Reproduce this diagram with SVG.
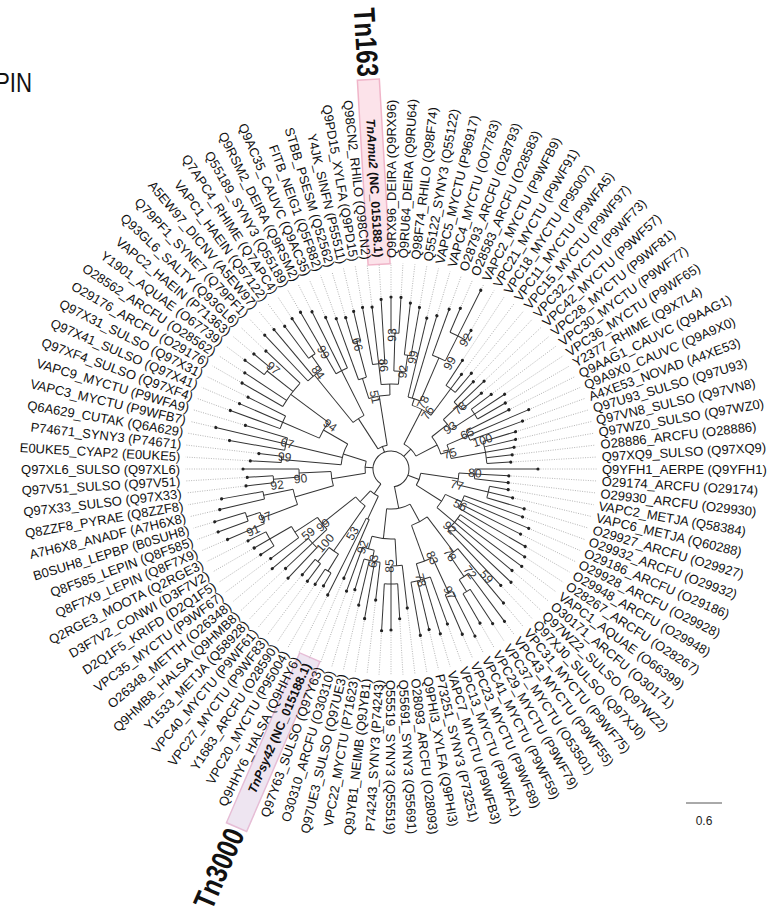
<svg xmlns="http://www.w3.org/2000/svg" width="767" height="907" viewBox="0 0 767 907">
<style>
.lb{font-family:"Liberation Sans",Arial,sans-serif;font-size:13px;fill:#111}
.le{text-anchor:end}
.bs{font-family:"Liberation Sans",Arial,sans-serif;font-size:12px;fill:#333;text-anchor:middle}
.hl{font-family:"Liberation Sans",Arial,sans-serif;font-size:12.5px;font-weight:bold;fill:#111}
.big{font-family:"Liberation Sans",Arial,sans-serif;font-size:30px;font-weight:bold;fill:#111}
#connectors path,#connectors circle{fill:none;stroke:#333;stroke-width:1}
#connectors path.dt{stroke:#a8a8a8;stroke-width:.8;stroke-dasharray:1 1.4}
.tip{fill:#222}
</style>
<rect width="767" height="907" fill="#fff"/>
<text x="-5" y="92" font-family="Liberation Sans,Arial,sans-serif" font-size="28" fill="#111" textLength="37" lengthAdjust="spacingAndGlyphs">PIN</text>

<g id="highlights" transform="translate(391 469)">
<rect transform="rotate(266.67)" x="205" y="-11" width="185" height="22" fill="#fce3ea" stroke="#f0b5c9" stroke-width="1.5"/>
<rect transform="rotate(113.33)" x="205" y="-11" width="185" height="22" fill="#eee5f1" stroke="#e6bdd6" stroke-width="1.5"/>
</g>

<g id="connectors" transform="translate(391 469)">
<circle r="18" stroke-dasharray="98.86 400" transform="rotate(124.17)"/>
<circle r="30" stroke-dasharray="9.60 400" transform="rotate(115)"/>
<circle r="55" stroke-dasharray="3.20 400" transform="rotate(113.33)"/>
<circle r="45" stroke-dasharray="13.09 400" transform="rotate(125)"/>
<circle r="100" stroke-dasharray="11.64 900" transform="rotate(121.67)"/>
<circle r="120" stroke-dasharray="6.97 900" transform="rotate(120)"/>
<circle r="118" stroke-dasharray="6.86 900" transform="rotate(126.67)"/>
<circle r="88" stroke-dasharray="15.36 900" transform="rotate(136.67)"/>
<circle r="108" stroke-dasharray="12.57 900" transform="rotate(133.33)"/>
<circle r="115" stroke-dasharray="13.39 900" transform="rotate(143.33)"/>
<circle r="140" stroke-dasharray="16.30 900" transform="rotate(146.67)"/>
<circle r="26" stroke-dasharray="12.19 400" transform="rotate(170.63)"/>
<circle r="60" stroke-dasharray="14.40 900" transform="rotate(163.75)"/>
<circle r="100" stroke-dasharray="16.00 900" transform="rotate(159.17)"/>
<circle r="138" stroke-dasharray="12.04 900" transform="rotate(156.67)"/>
<circle r="152" stroke-dasharray="8.83 990" transform="rotate(160)"/>
<circle r="130" stroke-dasharray="7.56 900" transform="rotate(166.67)"/>
<circle r="92" stroke-dasharray="8.03 900" transform="rotate(175)"/>
<circle r="118" stroke-dasharray="6.86 900" transform="rotate(173.33)"/>
<circle r="50" stroke-dasharray="21.82 400" transform="rotate(185)"/>
<circle r="110" stroke-dasharray="6.39 900" transform="rotate(183.33)"/>
<circle r="108" stroke-dasharray="12.57 900" transform="rotate(190)"/>
<circle r="78" stroke-dasharray="18.15 900" transform="rotate(203.33)"/>
<circle r="118" stroke-dasharray="13.74 900" transform="rotate(200)"/>
<circle r="125" stroke-dasharray="29.08 900" transform="rotate(210)"/>
<circle r="158" stroke-dasharray="9.18 999" transform="rotate(216.67)"/>
<circle r="24" stroke-dasharray="9.95 400" transform="rotate(237.08)"/>
<circle r="60" stroke-dasharray="13.09 900" transform="rotate(230.83)"/>
<circle r="121" stroke-dasharray="17.59 900" transform="rotate(226.67)"/>
<circle r="138" stroke-dasharray="8.02 900" transform="rotate(233.33)"/>
<circle r="110" stroke-dasharray="12.81 900" transform="rotate(240)"/>
<circle r="74" stroke-dasharray="21.53 900" transform="rotate(252.5)"/>
<circle r="95" stroke-dasharray="8.29 900" transform="rotate(250)"/>
<circle r="132" stroke-dasharray="7.67 900" transform="rotate(253.33)"/>
<circle r="85" stroke-dasharray="17.31 900" transform="rotate(263.33)"/>
<circle r="106" stroke-dasharray="12.34 900" transform="rotate(260)"/>
<circle r="98" stroke-dasharray="11.41 900" transform="rotate(271.67)"/>
<circle r="136" stroke-dasharray="7.90 900" transform="rotate(270)"/>
<circle r="115" stroke-dasharray="6.68 900" transform="rotate(276.67)"/>
<circle r="28" stroke-dasharray="17.10 400" transform="rotate(-62.5)"/>
<circle r="67" stroke-dasharray="21.43 900" transform="rotate(-71.67)"/>
<circle r="74" stroke-dasharray="12.92 900" transform="rotate(-76.67)"/>
<circle r="121" stroke-dasharray="14.09 900" transform="rotate(-70)"/>
<circle r="149" stroke-dasharray="17.35 999" transform="rotate(-66.67)"/>
<circle r="100" stroke-dasharray="11.64 900" transform="rotate(-56.67)"/>
<circle r="52" stroke-dasharray="19.67 400" transform="rotate(-38.33)"/>
<circle r="72" stroke-dasharray="12.57 900" transform="rotate(-43.33)"/>
<circle r="92" stroke-dasharray="10.71 900" transform="rotate(-46.67)"/>
<circle r="100" stroke-dasharray="11.64 900" transform="rotate(-36.67)"/>
<circle r="61" stroke-dasharray="14.19 900" transform="rotate(-23.33)"/>
<circle r="84" stroke-dasharray="9.78 900" transform="rotate(-26.67)"/>
<circle r="96" stroke-dasharray="22.33 900" transform="rotate(-16.67)"/>
<circle r="30" stroke-dasharray="12.66 400" transform="rotate(8.33)"/>
<circle r="68" stroke-dasharray="11.87 900" transform="rotate(3.33)"/>
<circle r="84" stroke-dasharray="9.78 900" transform="rotate(0)"/>
<circle r="100" stroke-dasharray="11.64 900" transform="rotate(10)"/>
<circle r="60" stroke-dasharray="15.71 900" transform="rotate(25)"/>
<circle r="78" stroke-dasharray="13.61 900" transform="rotate(20)"/>
<circle r="83" stroke-dasharray="19.31 900" transform="rotate(33.33)"/>
<circle r="40" stroke-dasharray="24.29 400" transform="rotate(61.46)"/>
<circle r="60" stroke-dasharray="17.89 900" transform="rotate(52.92)"/>
<circle r="104" stroke-dasharray="10.58 900" transform="rotate(50)"/>
<circle r="130" stroke-dasharray="11.34 900" transform="rotate(53.33)"/>
<circle r="144" stroke-dasharray="8.37 999" transform="rotate(56.67)"/>
<circle r="98" stroke-dasharray="17.10 900" transform="rotate(65)"/>
<circle r="137" stroke-dasharray="7.96 900" transform="rotate(63.33)"/>
<circle r="115" stroke-dasharray="20.07 900" transform="rotate(70)"/>
<circle r="70" stroke-dasharray="23.42 900" transform="rotate(86.67)"/>
<circle r="97" stroke-dasharray="11.29 900" transform="rotate(83.33)"/>
<circle r="115" stroke-dasharray="13.39 900" transform="rotate(86.67)"/>
<circle r="83" stroke-dasharray="12.07 900" transform="rotate(101.67)"/>
<circle r="94" stroke-dasharray="16.41 900" transform="rotate(96.67)"/>

<path transform="rotate(124.17)" d="M18 0H30"/>
<path transform="rotate(115)" d="M30 0H55"/>
<path transform="rotate(133.33)" d="M30 0H45"/>
<path transform="rotate(125)" d="M45 0H100"/>
<path transform="rotate(121.67)" d="M100 0H120"/>
<path transform="rotate(128.33)" d="M100 0H118"/>
<path transform="rotate(141.67)" d="M45 0H88"/>
<path transform="rotate(136.67)" d="M88 0H108"/>
<path transform="rotate(146.67)" d="M88 0H115"/>
<path transform="rotate(150)" d="M115 0H140"/>
<path transform="rotate(184.05)" d="M18 0H26"/>
<path transform="rotate(170.63)" d="M26 0H60"/>
<path transform="rotate(163.75)" d="M60 0H100"/>
<path transform="rotate(159.17)" d="M100 0H138"/>
<path transform="rotate(161.67)" d="M138 0H152"/>
<path transform="rotate(168.33)" d="M100 0H130"/>
<path transform="rotate(177.5)" d="M60 0H92"/>
<path transform="rotate(175)" d="M92 0H118"/>
<path transform="rotate(197.5)" d="M26 0H50"/>
<path transform="rotate(185)" d="M50 0H110"/>
<path transform="rotate(193.33)" d="M50 0H108"/>
<path transform="rotate(210)" d="M50 0H78"/>
<path transform="rotate(203.33)" d="M78 0H118"/>
<path transform="rotate(216.67)" d="M78 0H125"/>
<path transform="rotate(218.33)" d="M125 0H158"/>
<path transform="rotate(248.96)" d="M18 0H24"/>
<path transform="rotate(237.08)" d="M24 0H60"/>
<path transform="rotate(230.83)" d="M60 0H121"/>
<path transform="rotate(235)" d="M121 0H138"/>
<path transform="rotate(243.33)" d="M60 0H110"/>
<path transform="rotate(260.83)" d="M24 0H74"/>
<path transform="rotate(252.5)" d="M74 0H95"/>
<path transform="rotate(255)" d="M95 0H132"/>
<path transform="rotate(269.17)" d="M74 0H85"/>
<path transform="rotate(263.33)" d="M85 0H106"/>
<path transform="rotate(275)" d="M85 0H98"/>
<path transform="rotate(271.67)" d="M98 0H136"/>
<path transform="rotate(278.33)" d="M98 0H115"/>
<path transform="rotate(-45)" d="M18 0H28"/>
<path transform="rotate(-62.5)" d="M28 0H67"/>
<path transform="rotate(-71.67)" d="M67 0H74"/>
<path transform="rotate(-66.67)" d="M74 0H121"/>
<path transform="rotate(-63.33)" d="M121 0H149"/>
<path transform="rotate(-53.33)" d="M67 0H100"/>
<path transform="rotate(-27.5)" d="M28 0H52"/>
<path transform="rotate(-38.33)" d="M52 0H72"/>
<path transform="rotate(-43.33)" d="M72 0H92"/>
<path transform="rotate(-33.33)" d="M72 0H100"/>
<path transform="rotate(-16.67)" d="M52 0H61"/>
<path transform="rotate(-23.33)" d="M61 0H84"/>
<path transform="rotate(-10)" d="M61 0H96"/>
<path transform="rotate(20.42)" d="M18 0H30"/>
<path transform="rotate(8.33)" d="M30 0H68"/>
<path transform="rotate(3.33)" d="M68 0H84"/>
<path transform="rotate(13.33)" d="M68 0H100"/>
<path transform="rotate(32.5)" d="M30 0H60"/>
<path transform="rotate(25)" d="M60 0H78"/>
<path transform="rotate(40)" d="M60 0H83"/>
<path transform="rotate(78.85)" d="M18 0H40"/>
<path transform="rotate(61.46)" d="M40 0H60"/>
<path transform="rotate(52.92)" d="M60 0H104"/>
<path transform="rotate(55.83)" d="M104 0H130"/>
<path transform="rotate(58.33)" d="M130 0H144"/>
<path transform="rotate(70)" d="M60 0H98"/>
<path transform="rotate(65)" d="M98 0H137"/>
<path transform="rotate(75)" d="M98 0H115"/>
<path transform="rotate(96.25)" d="M40 0H70"/>
<path transform="rotate(86.67)" d="M70 0H97"/>
<path transform="rotate(90)" d="M97 0H115"/>
<path transform="rotate(105.83)" d="M70 0H83"/>
<path transform="rotate(101.67)" d="M83 0H94"/>

<g transform="rotate(266.67)"><path d="M106 0H170"/><path class="dt" d="M170 0H206"/></g>
<g transform="rotate(-90)"><path d="M136 0H172"/><path class="dt" d="M172 0H206"/></g>
<g transform="rotate(-86.67)"><path d="M136 0H172"/><path class="dt" d="M172 0H206"/></g>
<g transform="rotate(-83.33)"><path d="M115 0H167"/><path class="dt" d="M167 0H206"/></g>
<g transform="rotate(-80)"><path d="M115 0H164"/><path class="dt" d="M164 0H206"/></g>
<g transform="rotate(-76.67)"><path d="M74 0H155"/><path class="dt" d="M155 0H206"/></g>
<g transform="rotate(-73.33)"><path d="M74 0H160"/><path class="dt" d="M160 0H206"/></g>
<g transform="rotate(-70)"><path d="M121 0H170"/><path class="dt" d="M170 0H206"/></g>
<g transform="rotate(-66.67)"><path d="M149 0H175"/><path class="dt" d="M175 0H206"/></g>
<g transform="rotate(-63.33)"><path d="M149 0H200"/><path class="dt" d="M200 0H206"/></g>
<g transform="rotate(-60)"><path d="M149 0H160"/><path class="dt" d="M160 0H206"/></g>
<g transform="rotate(-56.67)"><path d="M100 0H130"/><path class="dt" d="M130 0H206"/></g>
<g transform="rotate(-53.33)"><path d="M100 0H118"/><path class="dt" d="M118 0H206"/></g>
<g transform="rotate(-50)"><path d="M100 0H125"/><path class="dt" d="M125 0H206"/></g>
<g transform="rotate(-46.67)"><path d="M92 0H120"/><path class="dt" d="M120 0H206"/></g>
<g transform="rotate(-43.33)"><path d="M92 0H128"/><path class="dt" d="M128 0H206"/></g>
<g transform="rotate(-40)"><path d="M92 0H118"/><path class="dt" d="M118 0H206"/></g>
<g transform="rotate(-36.67)"><path d="M100 0H125"/><path class="dt" d="M125 0H206"/></g>
<g transform="rotate(-33.33)"><path d="M100 0H136"/><path class="dt" d="M136 0H206"/></g>
<g transform="rotate(-30)"><path d="M100 0H132"/><path class="dt" d="M132 0H206"/></g>
<g transform="rotate(-26.67)"><path d="M84 0H132"/><path class="dt" d="M132 0H206"/></g>
<g transform="rotate(-23.33)"><path d="M84 0H150"/><path class="dt" d="M150 0H206"/></g>
<g transform="rotate(-20)"><path d="M84 0H140"/><path class="dt" d="M140 0H206"/></g>
<g transform="rotate(-16.67)"><path d="M96 0H130"/><path class="dt" d="M130 0H206"/></g>
<g transform="rotate(-13.33)"><path d="M96 0H128"/><path class="dt" d="M128 0H206"/></g>
<g transform="rotate(-10)"><path d="M96 0H125"/><path class="dt" d="M125 0H206"/></g>
<g transform="rotate(-6.67)"><path d="M96 0H122"/><path class="dt" d="M122 0H206"/></g>
<g transform="rotate(-3.33)"><path d="M96 0H120"/><path class="dt" d="M120 0H206"/></g>
<g transform="rotate(0)"><path d="M84 0H147"/><path class="dt" d="M147 0H206"/></g>
<g transform="rotate(3.33)"><path d="M84 0H118"/><path class="dt" d="M118 0H206"/></g>
<g transform="rotate(6.67)"><path d="M84 0H118"/><path class="dt" d="M118 0H206"/></g>
<g transform="rotate(10)"><path d="M100 0H119"/><path class="dt" d="M119 0H206"/></g>
<g transform="rotate(13.33)"><path d="M100 0H125"/><path class="dt" d="M125 0H206"/></g>
<g transform="rotate(16.67)"><path d="M100 0H139"/><path class="dt" d="M139 0H206"/></g>
<g transform="rotate(20)"><path d="M78 0H140"/><path class="dt" d="M140 0H206"/></g>
<g transform="rotate(23.33)"><path d="M78 0H150"/><path class="dt" d="M150 0H206"/></g>
<g transform="rotate(26.67)"><path d="M78 0H145"/><path class="dt" d="M145 0H206"/></g>
<g transform="rotate(30)"><path d="M78 0H155"/><path class="dt" d="M155 0H206"/></g>
<g transform="rotate(33.33)"><path d="M83 0H160"/><path class="dt" d="M160 0H206"/></g>
<g transform="rotate(36.67)"><path d="M83 0H163"/><path class="dt" d="M163 0H206"/></g>
<g transform="rotate(40)"><path d="M83 0H158"/><path class="dt" d="M158 0H206"/></g>
<g transform="rotate(43.33)"><path d="M83 0H165"/><path class="dt" d="M165 0H206"/></g>
<g transform="rotate(46.67)"><path d="M83 0H160"/><path class="dt" d="M160 0H206"/></g>
<g transform="rotate(50)"><path d="M104 0H175"/><path class="dt" d="M175 0H206"/></g>
<g transform="rotate(53.33)"><path d="M130 0H190"/><path class="dt" d="M190 0H206"/></g>
<g transform="rotate(56.67)"><path d="M144 0H185"/><path class="dt" d="M185 0H206"/></g>
<g transform="rotate(60)"><path d="M144 0H178"/><path class="dt" d="M178 0H206"/></g>
<g transform="rotate(63.33)"><path d="M137 0H187"/><path class="dt" d="M187 0H206"/></g>
<g transform="rotate(66.67)"><path d="M137 0H180"/><path class="dt" d="M180 0H206"/></g>
<g transform="rotate(70)"><path d="M115 0H165"/><path class="dt" d="M165 0H206"/></g>
<g transform="rotate(73.33)"><path d="M115 0H172"/><path class="dt" d="M172 0H206"/></g>
<g transform="rotate(76.67)"><path d="M115 0H165"/><path class="dt" d="M165 0H206"/></g>
<g transform="rotate(80)"><path d="M115 0H169"/><path class="dt" d="M169 0H206"/></g>
<g transform="rotate(83.33)"><path d="M97 0H140"/><path class="dt" d="M140 0H206"/></g>
<g transform="rotate(86.67)"><path d="M115 0H150"/><path class="dt" d="M150 0H206"/></g>
<g transform="rotate(90)"><path d="M115 0H161"/><path class="dt" d="M161 0H206"/></g>
<g transform="rotate(93.33)"><path d="M115 0H162"/><path class="dt" d="M162 0H206"/></g>
<g transform="rotate(96.67)"><path d="M94 0H132"/><path class="dt" d="M132 0H206"/></g>
<g transform="rotate(100)"><path d="M94 0H152"/><path class="dt" d="M152 0H206"/></g>
<g transform="rotate(103.33)"><path d="M94 0H140"/><path class="dt" d="M140 0H206"/></g>
<g transform="rotate(106.67)"><path d="M94 0H126"/><path class="dt" d="M126 0H206"/></g>
<g transform="rotate(110)"><path d="M83 0H130"/><path class="dt" d="M130 0H206"/></g>
<g transform="rotate(113.33)"><path d="M55 0H119"/><path class="dt" d="M119 0H206"/></g>
<g transform="rotate(116.67)"><path d="M55 0H141"/><path class="dt" d="M141 0H206"/></g>
<g transform="rotate(120)"><path d="M120 0H135"/><path class="dt" d="M135 0H206"/></g>
<g transform="rotate(123.33)"><path d="M120 0H138"/><path class="dt" d="M138 0H206"/></g>
<g transform="rotate(126.67)"><path d="M118 0H140"/><path class="dt" d="M140 0H206"/></g>
<g transform="rotate(130)"><path d="M118 0H138"/><path class="dt" d="M138 0H206"/></g>
<g transform="rotate(133.33)"><path d="M108 0H150"/><path class="dt" d="M150 0H206"/></g>
<g transform="rotate(136.67)"><path d="M108 0H145"/><path class="dt" d="M145 0H206"/></g>
<g transform="rotate(140)"><path d="M108 0H155"/><path class="dt" d="M155 0H206"/></g>
<g transform="rotate(143.33)"><path d="M115 0H150"/><path class="dt" d="M150 0H206"/></g>
<g transform="rotate(146.67)"><path d="M140 0H156"/><path class="dt" d="M156 0H206"/></g>
<g transform="rotate(150)"><path d="M140 0H158"/><path class="dt" d="M158 0H206"/></g>
<g transform="rotate(153.33)"><path d="M140 0H160"/><path class="dt" d="M160 0H206"/></g>
<g transform="rotate(156.67)"><path d="M138 0H178"/><path class="dt" d="M178 0H206"/></g>
<g transform="rotate(160)"><path d="M152 0H184"/><path class="dt" d="M184 0H206"/></g>
<g transform="rotate(163.33)"><path d="M152 0H184"/><path class="dt" d="M184 0H206"/></g>
<g transform="rotate(166.67)"><path d="M130 0H176"/><path class="dt" d="M176 0H206"/></g>
<g transform="rotate(170)"><path d="M130 0H172"/><path class="dt" d="M172 0H206"/></g>
<g transform="rotate(173.33)"><path d="M118 0H146"/><path class="dt" d="M146 0H206"/></g>
<g transform="rotate(176.67)"><path d="M118 0H144"/><path class="dt" d="M144 0H206"/></g>
<g transform="rotate(180)"><path d="M92 0H148"/><path class="dt" d="M148 0H206"/></g>
<g transform="rotate(183.33)"><path d="M110 0H141"/><path class="dt" d="M141 0H206"/></g>
<g transform="rotate(186.67)"><path d="M110 0H133"/><path class="dt" d="M133 0H206"/></g>
<g transform="rotate(190)"><path d="M108 0H164"/><path class="dt" d="M164 0H206"/></g>
<g transform="rotate(193.33)"><path d="M108 0H180"/><path class="dt" d="M180 0H206"/></g>
<g transform="rotate(196.67)"><path d="M108 0H152"/><path class="dt" d="M152 0H206"/></g>
<g transform="rotate(200)"><path d="M118 0H171"/><path class="dt" d="M171 0H206"/></g>
<g transform="rotate(203.33)"><path d="M118 0H165"/><path class="dt" d="M165 0H206"/></g>
<g transform="rotate(206.67)"><path d="M118 0H160"/><path class="dt" d="M160 0H206"/></g>
<g transform="rotate(210)"><path d="M125 0H172"/><path class="dt" d="M172 0H206"/></g>
<g transform="rotate(213.33)"><path d="M125 0H175"/><path class="dt" d="M175 0H206"/></g>
<g transform="rotate(216.67)"><path d="M158 0H182"/><path class="dt" d="M182 0H206"/></g>
<g transform="rotate(220)"><path d="M158 0H179"/><path class="dt" d="M179 0H206"/></g>
<g transform="rotate(223.33)"><path d="M125 0H172"/><path class="dt" d="M172 0H206"/></g>
<g transform="rotate(226.67)"><path d="M121 0H184"/><path class="dt" d="M184 0H206"/></g>
<g transform="rotate(230)"><path d="M121 0H182"/><path class="dt" d="M182 0H206"/></g>
<g transform="rotate(233.33)"><path d="M138 0H178"/><path class="dt" d="M178 0H206"/></g>
<g transform="rotate(236.67)"><path d="M138 0H180"/><path class="dt" d="M180 0H206"/></g>
<g transform="rotate(240)"><path d="M110 0H181"/><path class="dt" d="M181 0H206"/></g>
<g transform="rotate(243.33)"><path d="M110 0H176"/><path class="dt" d="M176 0H206"/></g>
<g transform="rotate(246.67)"><path d="M110 0H165"/><path class="dt" d="M165 0H206"/></g>
<g transform="rotate(250)"><path d="M95 0H160"/><path class="dt" d="M160 0H206"/></g>
<g transform="rotate(253.33)"><path d="M132 0H158"/><path class="dt" d="M158 0H206"/></g>
<g transform="rotate(256.67)"><path d="M132 0H162"/><path class="dt" d="M162 0H206"/></g>
<g transform="rotate(260)"><path d="M106 0H164"/><path class="dt" d="M164 0H206"/></g>
<g transform="rotate(263.33)"><path d="M106 0H163"/><path class="dt" d="M163 0H206"/></g>
</g>

<g id="leaves" transform="translate(391 469)">
<g id="leaf-TnAmu2" transform="rotate(266.67)"><circle class="tip" cx="170" r="1.6"/><text class="hl le" transform="rotate(180)" x="-212" dy=".35em"><tspan font-style="italic">TnAmu2</tspan> (NC_015188.1)</text></g>
<g id="leaf-Q9RX96" transform="rotate(-90)"><circle class="tip" cx="172" r="1.6"/><text class="lb" x="211" dy=".35em">Q9RX96_DEIRA (Q9RX96)</text></g>
<g id="leaf-Q9RU64" transform="rotate(-86.67)"><circle class="tip" cx="172" r="1.6"/><text class="lb" x="211" dy=".35em">Q9RU64_DEIRA (Q9RU64)</text></g>
<g id="leaf-Q98F74" transform="rotate(-83.33)"><circle class="tip" cx="167" r="1.6"/><text class="lb" x="211" dy=".35em">Q98F74_RHILO (Q98F74)</text></g>
<g id="leaf-Q55122" transform="rotate(-80)"><circle class="tip" cx="164" r="1.6"/><text class="lb" x="211" dy=".35em">Q55122_SYNY3 (Q55122)</text></g>
<g id="leaf-P96917" transform="rotate(-76.67)"><circle class="tip" cx="155" r="1.6"/><text class="lb" x="211" dy=".35em">VAPC5_MYCTU (P96917)</text></g>
<g id="leaf-O07783" transform="rotate(-73.33)"><circle class="tip" cx="160" r="1.6"/><text class="lb" x="211" dy=".35em">VAPC4_MYCTU (O07783)</text></g>
<g id="leaf-O28793" transform="rotate(-70)"><circle class="tip" cx="170" r="1.6"/><text class="lb" x="211" dy=".35em">O28793_ARCFU (O28793)</text></g>
<g id="leaf-O28583" transform="rotate(-66.67)"><circle class="tip" cx="175" r="1.6"/><text class="lb" x="211" dy=".35em">O28583_ARCFU (O28583)</text></g>
<g id="leaf-P9WFB9" transform="rotate(-63.33)"><circle class="tip" cx="200" r="1.6"/><text class="lb" x="211" dy=".35em">VAPC2_MYCTU (P9WFB9)</text></g>
<g id="leaf-P9WF91" transform="rotate(-60)"><circle class="tip" cx="160" r="1.6"/><text class="lb" x="211" dy=".35em">VPC21_MYCTU (P9WF91)</text></g>
<g id="leaf-P95007" transform="rotate(-56.67)"><circle class="tip" cx="130" r="1.6"/><text class="lb" x="211" dy=".35em">VPC18_MYCTU (P95007)</text></g>
<g id="leaf-P9WFA5" transform="rotate(-53.33)"><circle class="tip" cx="118" r="1.6"/><text class="lb" x="211" dy=".35em">VPC11_MYCTU (P9WFA5)</text></g>
<g id="leaf-P9WF97" transform="rotate(-50)"><circle class="tip" cx="125" r="1.6"/><text class="lb" x="211" dy=".35em">VPC15_MYCTU (P9WF97)</text></g>
<g id="leaf-P9WF73" transform="rotate(-46.67)"><circle class="tip" cx="120" r="1.6"/><text class="lb" x="211" dy=".35em">VPC32_MYCTU (P9WF73)</text></g>
<g id="leaf-P9WF57" transform="rotate(-43.33)"><circle class="tip" cx="128" r="1.6"/><text class="lb" x="211" dy=".35em">VPC42_MYCTU (P9WF57)</text></g>
<g id="leaf-P9WF81" transform="rotate(-40)"><circle class="tip" cx="118" r="1.6"/><text class="lb" x="211" dy=".35em">VPC28_MYCTU (P9WF81)</text></g>
<g id="leaf-P9WF77" transform="rotate(-36.67)"><circle class="tip" cx="125" r="1.6"/><text class="lb" x="211" dy=".35em">VPC30_MYCTU (P9WF77)</text></g>
<g id="leaf-P9WF65" transform="rotate(-33.33)"><circle class="tip" cx="136" r="1.6"/><text class="lb" x="211" dy=".35em">VPC36_MYCTU (P9WF65)</text></g>
<g id="leaf-Q9X7L4" transform="rotate(-30)"><circle class="tip" cx="132" r="1.6"/><text class="lb" x="211" dy=".35em">Y2377_RHIME (Q9X7L4)</text></g>
<g id="leaf-Q9AAG1" transform="rotate(-26.67)"><circle class="tip" cx="132" r="1.6"/><text class="lb" x="211" dy=".35em">Q9AAG1_CAUVC (Q9AAG1)</text></g>
<g id="leaf-Q9A9X0" transform="rotate(-23.33)"><circle class="tip" cx="150" r="1.6"/><text class="lb" x="211" dy=".35em">Q9A9X0_CAUVC (Q9A9X0)</text></g>
<g id="leaf-A4XE53" transform="rotate(-20)"><circle class="tip" cx="140" r="1.6"/><text class="lb" x="211" dy=".35em">A4XE53_NOVAD (A4XE53)</text></g>
<g id="leaf-Q97U93" transform="rotate(-16.67)"><circle class="tip" cx="130" r="1.6"/><text class="lb" x="211" dy=".35em">Q97U93_SULSO (Q97U93)</text></g>
<g id="leaf-Q97VN8" transform="rotate(-13.33)"><circle class="tip" cx="128" r="1.6"/><text class="lb" x="211" dy=".35em">Q97VN8_SULSO (Q97VN8)</text></g>
<g id="leaf-Q97WZ0" transform="rotate(-10)"><circle class="tip" cx="125" r="1.6"/><text class="lb" x="211" dy=".35em">Q97WZ0_SULSO (Q97WZ0)</text></g>
<g id="leaf-O28886" transform="rotate(-6.67)"><circle class="tip" cx="122" r="1.6"/><text class="lb" x="211" dy=".35em">O28886_ARCFU (O28886)</text></g>
<g id="leaf-Q97XQ9" transform="rotate(-3.33)"><circle class="tip" cx="120" r="1.6"/><text class="lb" x="211" dy=".35em">Q97XQ9_SULSO (Q97XQ9)</text></g>
<g id="leaf-Q9YFH1" transform="rotate(0)"><circle class="tip" cx="147" r="1.6"/><text class="lb" x="211" dy=".35em">Q9YFH1_AERPE (Q9YFH1)</text></g>
<g id="leaf-O29174" transform="rotate(3.33)"><circle class="tip" cx="118" r="1.6"/><text class="lb" x="211" dy=".35em">O29174_ARCFU (O29174)</text></g>
<g id="leaf-O29930" transform="rotate(6.67)"><circle class="tip" cx="118" r="1.6"/><text class="lb" x="211" dy=".35em">O29930_ARCFU (O29930)</text></g>
<g id="leaf-Q58384" transform="rotate(10)"><circle class="tip" cx="119" r="1.6"/><text class="lb" x="211" dy=".35em">VAPC2_METJA (Q58384)</text></g>
<g id="leaf-Q60288" transform="rotate(13.33)"><circle class="tip" cx="125" r="1.6"/><text class="lb" x="211" dy=".35em">VAPC6_METJA (Q60288)</text></g>
<g id="leaf-O29927" transform="rotate(16.67)"><circle class="tip" cx="139" r="1.6"/><text class="lb" x="211" dy=".35em">O29927_ARCFU (O29927)</text></g>
<g id="leaf-O29932" transform="rotate(20)"><circle class="tip" cx="140" r="1.6"/><text class="lb" x="211" dy=".35em">O29932_ARCFU (O29932)</text></g>
<g id="leaf-O29186" transform="rotate(23.33)"><circle class="tip" cx="150" r="1.6"/><text class="lb" x="211" dy=".35em">O29186_ARCFU (O29186)</text></g>
<g id="leaf-O29928" transform="rotate(26.67)"><circle class="tip" cx="145" r="1.6"/><text class="lb" x="211" dy=".35em">O29928_ARCFU (O29928)</text></g>
<g id="leaf-O29948" transform="rotate(30)"><circle class="tip" cx="155" r="1.6"/><text class="lb" x="211" dy=".35em">O29948_ARCFU (O29948)</text></g>
<g id="leaf-O28267" transform="rotate(33.33)"><circle class="tip" cx="160" r="1.6"/><text class="lb" x="211" dy=".35em">O28267_ARCFU (O28267)</text></g>
<g id="leaf-O66399" transform="rotate(36.67)"><circle class="tip" cx="163" r="1.6"/><text class="lb" x="211" dy=".35em">VAPC1_AQUAE (O66399)</text></g>
<g id="leaf-O30171" transform="rotate(40)"><circle class="tip" cx="158" r="1.6"/><text class="lb" x="211" dy=".35em">O30171_ARCFU (O30171)</text></g>
<g id="leaf-Q97WZ2" transform="rotate(43.33)"><circle class="tip" cx="165" r="1.6"/><text class="lb" x="211" dy=".35em">Q97WZ2_SULSO (Q97WZ2)</text></g>
<g id="leaf-Q97XJ0" transform="rotate(46.67)"><circle class="tip" cx="160" r="1.6"/><text class="lb" x="211" dy=".35em">Q97XJ0_SULSO (Q97XJ0)</text></g>
<g id="leaf-P9WF75" transform="rotate(50)"><circle class="tip" cx="175" r="1.6"/><text class="lb" x="211" dy=".35em">VPC31_MYCTU (P9WF75)</text></g>
<g id="leaf-P9WF55" transform="rotate(53.33)"><circle class="tip" cx="190" r="1.6"/><text class="lb" x="211" dy=".35em">VPC43_MYCTU (P9WF55)</text></g>
<g id="leaf-O53501" transform="rotate(56.67)"><circle class="tip" cx="185" r="1.6"/><text class="lb" x="211" dy=".35em">VPC37_MYCTU (O53501)</text></g>
<g id="leaf-P9WF79" transform="rotate(60)"><circle class="tip" cx="178" r="1.6"/><text class="lb" x="211" dy=".35em">VPC29_MYCTU (P9WF79)</text></g>
<g id="leaf-P9WF59" transform="rotate(63.33)"><circle class="tip" cx="187" r="1.6"/><text class="lb" x="211" dy=".35em">VPC41_MYCTU (P9WF59)</text></g>
<g id="leaf-P9WF89" transform="rotate(66.67)"><circle class="tip" cx="180" r="1.6"/><text class="lb" x="211" dy=".35em">VPC23_MYCTU (P9WF89)</text></g>
<g id="leaf-P9WFA1" transform="rotate(70)"><circle class="tip" cx="165" r="1.6"/><text class="lb" x="211" dy=".35em">VPC13_MYCTU (P9WFA1)</text></g>
<g id="leaf-P9WFB3" transform="rotate(73.33)"><circle class="tip" cx="172" r="1.6"/><text class="lb" x="211" dy=".35em">VAPC7_MYCTU (P9WFB3)</text></g>
<g id="leaf-P73251" transform="rotate(76.67)"><circle class="tip" cx="165" r="1.6"/><text class="lb" x="211" dy=".35em">P73251_SYNY3 (P73251)</text></g>
<g id="leaf-Q9PHI3" transform="rotate(80)"><circle class="tip" cx="169" r="1.6"/><text class="lb" x="211" dy=".35em">Q9PHI3_XYLFA (Q9PHI3)</text></g>
<g id="leaf-O28093" transform="rotate(83.33)"><circle class="tip" cx="140" r="1.6"/><text class="lb" x="211" dy=".35em">O28093_ARCFU (O28093)</text></g>
<g id="leaf-Q55691" transform="rotate(86.67)"><circle class="tip" cx="150" r="1.6"/><text class="lb" x="211" dy=".35em">Q55691_SYNY3 (Q55691)</text></g>
<g id="leaf-Q55519" transform="rotate(90)"><circle class="tip" cx="161" r="1.6"/><text class="lb" x="211" dy=".35em">Q55519_SYNY3 (Q55519)</text></g>
<g id="leaf-P74243" transform="rotate(93.33)"><circle class="tip" cx="162" r="1.6"/><text class="lb le" transform="rotate(180)" x="-211" dy=".35em">P74243_SYNY3 (P74243)</text></g>
<g id="leaf-Q9JYB1" transform="rotate(96.67)"><circle class="tip" cx="132" r="1.6"/><text class="lb le" transform="rotate(180)" x="-211" dy=".35em">Q9JYB1_NEIMB (Q9JYB1)</text></g>
<g id="leaf-P71623" transform="rotate(100)"><circle class="tip" cx="152" r="1.6"/><text class="lb le" transform="rotate(180)" x="-211" dy=".35em">VPC22_MYCTU (P71623)</text></g>
<g id="leaf-Q97UE3" transform="rotate(103.33)"><circle class="tip" cx="140" r="1.6"/><text class="lb le" transform="rotate(180)" x="-211" dy=".35em">Q97UE3_SULSO (Q97UE3)</text></g>
<g id="leaf-O30310" transform="rotate(106.67)"><circle class="tip" cx="126" r="1.6"/><text class="lb le" transform="rotate(180)" x="-211" dy=".35em">O30310_ARCFU (O30310)</text></g>
<g id="leaf-Q97Y63" transform="rotate(110)"><circle class="tip" cx="130" r="1.6"/><text class="lb le" transform="rotate(180)" x="-211" dy=".35em">Q97Y63_SULSO (Q97Y63)</text></g>
<g id="leaf-TnPsy42" transform="rotate(113.33)"><circle class="tip" cx="119" r="1.6"/><text class="hl le" transform="rotate(180)" x="-212" dy=".35em"><tspan font-style="italic">TnPsy42</tspan> (NC_015188.1)</text></g>
<g id="leaf-Q9HHY6" transform="rotate(116.67)"><circle class="tip" cx="141" r="1.6"/><text class="lb le" transform="rotate(180)" x="-211" dy=".35em">Q9HHY6_HALSA (Q9HHY6)</text></g>
<g id="leaf-P95004" transform="rotate(120)"><circle class="tip" cx="135" r="1.6"/><text class="lb le" transform="rotate(180)" x="-211" dy=".35em">VPC20_MYCTU (P95004)</text></g>
<g id="leaf-O28590" transform="rotate(123.33)"><circle class="tip" cx="138" r="1.6"/><text class="lb le" transform="rotate(180)" x="-211" dy=".35em">Y1683_ARCFU (O28590)</text></g>
<g id="leaf-P9WF83" transform="rotate(126.67)"><circle class="tip" cx="140" r="1.6"/><text class="lb le" transform="rotate(180)" x="-211" dy=".35em">VPC27_MYCTU (P9WF83)</text></g>
<g id="leaf-P9WF61" transform="rotate(130)"><circle class="tip" cx="138" r="1.6"/><text class="lb le" transform="rotate(180)" x="-211" dy=".35em">VPC40_MYCTU (P9WF61)</text></g>
<g id="leaf-Q58928" transform="rotate(133.33)"><circle class="tip" cx="150" r="1.6"/><text class="lb le" transform="rotate(180)" x="-211" dy=".35em">Y1533_METJA (Q58928)</text></g>
<g id="leaf-Q9HMB8" transform="rotate(136.67)"><circle class="tip" cx="145" r="1.6"/><text class="lb le" transform="rotate(180)" x="-211" dy=".35em">Q9HMB8_HALSA (Q9HMB8)</text></g>
<g id="leaf-O26348" transform="rotate(140)"><circle class="tip" cx="155" r="1.6"/><text class="lb le" transform="rotate(180)" x="-211" dy=".35em">O26348_METTH (O26348)</text></g>
<g id="leaf-P9WF67" transform="rotate(143.33)"><circle class="tip" cx="150" r="1.6"/><text class="lb le" transform="rotate(180)" x="-211" dy=".35em">VPC35_MYCTU (P9WF67)</text></g>
<g id="leaf-D2Q1F5" transform="rotate(146.67)"><circle class="tip" cx="156" r="1.6"/><text class="lb le" transform="rotate(180)" x="-211" dy=".35em">D2Q1F5_KRIFD (D2Q1F5)</text></g>
<g id="leaf-D3F7V2" transform="rotate(150)"><circle class="tip" cx="158" r="1.6"/><text class="lb le" transform="rotate(180)" x="-211" dy=".35em">D3F7V2_CONWI (D3F7V2)</text></g>
<g id="leaf-Q2RGE3" transform="rotate(153.33)"><circle class="tip" cx="160" r="1.6"/><text class="lb le" transform="rotate(180)" x="-211" dy=".35em">Q2RGE3_MOOTA (Q2RGE3)</text></g>
<g id="leaf-Q8F7X9" transform="rotate(156.67)"><circle class="tip" cx="178" r="1.6"/><text class="lb le" transform="rotate(180)" x="-211" dy=".35em">Q8F7X9_LEPIN (Q8F7X9)</text></g>
<g id="leaf-Q8F585" transform="rotate(160)"><circle class="tip" cx="184" r="1.6"/><text class="lb le" transform="rotate(180)" x="-211" dy=".35em">Q8F585_LEPIN (Q8F585)</text></g>
<g id="leaf-B0SUH8" transform="rotate(163.33)"><circle class="tip" cx="184" r="1.6"/><text class="lb le" transform="rotate(180)" x="-211" dy=".35em">B0SUH8_LEPBP (B0SUH8)</text></g>
<g id="leaf-A7H6X8" transform="rotate(166.67)"><circle class="tip" cx="176" r="1.6"/><text class="lb le" transform="rotate(180)" x="-211" dy=".35em">A7H6X8_ANADF (A7H6X8)</text></g>
<g id="leaf-Q8ZZF8" transform="rotate(170)"><circle class="tip" cx="172" r="1.6"/><text class="lb le" transform="rotate(180)" x="-211" dy=".35em">Q8ZZF8_PYRAE (Q8ZZF8)</text></g>
<g id="leaf-Q97X33" transform="rotate(173.33)"><circle class="tip" cx="146" r="1.6"/><text class="lb le" transform="rotate(180)" x="-211" dy=".35em">Q97X33_SULSO (Q97X33)</text></g>
<g id="leaf-Q97V51" transform="rotate(176.67)"><circle class="tip" cx="144" r="1.6"/><text class="lb le" transform="rotate(180)" x="-211" dy=".35em">Q97V51_SULSO (Q97V51)</text></g>
<g id="leaf-Q97XL6" transform="rotate(180)"><circle class="tip" cx="148" r="1.6"/><text class="lb le" transform="rotate(180)" x="-211" dy=".35em">Q97XL6_SULSO (Q97XL6)</text></g>
<g id="leaf-E0UKE5" transform="rotate(183.33)"><circle class="tip" cx="141" r="1.6"/><text class="lb le" transform="rotate(180)" x="-211" dy=".35em">E0UKE5_CYAP2 (E0UKE5)</text></g>
<g id="leaf-P74671" transform="rotate(186.67)"><circle class="tip" cx="133" r="1.6"/><text class="lb le" transform="rotate(180)" x="-211" dy=".35em">P74671_SYNY3 (P74671)</text></g>
<g id="leaf-Q6A629" transform="rotate(190)"><circle class="tip" cx="164" r="1.6"/><text class="lb le" transform="rotate(180)" x="-211" dy=".35em">Q6A629_CUTAK (Q6A629)</text></g>
<g id="leaf-P9WFB7" transform="rotate(193.33)"><circle class="tip" cx="180" r="1.6"/><text class="lb le" transform="rotate(180)" x="-211" dy=".35em">VAPC3_MYCTU (P9WFB7)</text></g>
<g id="leaf-P9WFA9" transform="rotate(196.67)"><circle class="tip" cx="152" r="1.6"/><text class="lb le" transform="rotate(180)" x="-211" dy=".35em">VAPC9_MYCTU (P9WFA9)</text></g>
<g id="leaf-Q97XF4" transform="rotate(200)"><circle class="tip" cx="171" r="1.6"/><text class="lb le" transform="rotate(180)" x="-211" dy=".35em">Q97XF4_SULSO (Q97XF4)</text></g>
<g id="leaf-Q97X41" transform="rotate(203.33)"><circle class="tip" cx="165" r="1.6"/><text class="lb le" transform="rotate(180)" x="-211" dy=".35em">Q97X41_SULSO (Q97X41)</text></g>
<g id="leaf-Q97X31" transform="rotate(206.67)"><circle class="tip" cx="160" r="1.6"/><text class="lb le" transform="rotate(180)" x="-211" dy=".35em">Q97X31_SULSO (Q97X31)</text></g>
<g id="leaf-O29176" transform="rotate(210)"><circle class="tip" cx="172" r="1.6"/><text class="lb le" transform="rotate(180)" x="-211" dy=".35em">O29176_ARCFU (O29176)</text></g>
<g id="leaf-O28562" transform="rotate(213.33)"><circle class="tip" cx="175" r="1.6"/><text class="lb le" transform="rotate(180)" x="-211" dy=".35em">O28562_ARCFU (O28562)</text></g>
<g id="leaf-O67739" transform="rotate(216.67)"><circle class="tip" cx="182" r="1.6"/><text class="lb le" transform="rotate(180)" x="-211" dy=".35em">Y1901_AQUAE (O67739)</text></g>
<g id="leaf-P71363" transform="rotate(220)"><circle class="tip" cx="179" r="1.6"/><text class="lb le" transform="rotate(180)" x="-211" dy=".35em">VAPC2_HAEIN (P71363)</text></g>
<g id="leaf-Q93GL6" transform="rotate(223.33)"><circle class="tip" cx="172" r="1.6"/><text class="lb le" transform="rotate(180)" x="-211" dy=".35em">Q93GL6_SALTY (Q93GL6)</text></g>
<g id="leaf-Q79PF1" transform="rotate(226.67)"><circle class="tip" cx="184" r="1.6"/><text class="lb le" transform="rotate(180)" x="-211" dy=".35em">Q79PF1_SYNE7 (Q79PF1)</text></g>
<g id="leaf-A5EW97" transform="rotate(230)"><circle class="tip" cx="182" r="1.6"/><text class="lb le" transform="rotate(180)" x="-211" dy=".35em">A5EW97_DICNV (A5EW97)</text></g>
<g id="leaf-Q57122" transform="rotate(233.33)"><circle class="tip" cx="178" r="1.6"/><text class="lb le" transform="rotate(180)" x="-211" dy=".35em">VAPC1_HAEIN (Q57122)</text></g>
<g id="leaf-Q7APC4" transform="rotate(236.67)"><circle class="tip" cx="180" r="1.6"/><text class="lb le" transform="rotate(180)" x="-211" dy=".35em">Q7APC4_RHIME (Q7APC4)</text></g>
<g id="leaf-Q55189" transform="rotate(240)"><circle class="tip" cx="181" r="1.6"/><text class="lb le" transform="rotate(180)" x="-211" dy=".35em">Q55189_SYNY3 (Q55189)</text></g>
<g id="leaf-Q9RSM2" transform="rotate(243.33)"><circle class="tip" cx="176" r="1.6"/><text class="lb le" transform="rotate(180)" x="-211" dy=".35em">Q9RSM2_DEIRA (Q9RSM2)</text></g>
<g id="leaf-Q9AC35" transform="rotate(246.67)"><circle class="tip" cx="165" r="1.6"/><text class="lb le" transform="rotate(180)" x="-211" dy=".35em">Q9AC35_CAUVC (Q9AC35)</text></g>
<g id="leaf-Q5F882" transform="rotate(250)"><circle class="tip" cx="160" r="1.6"/><text class="lb le" transform="rotate(180)" x="-211" dy=".35em">FITB_NEIG1 (Q5F882)</text></g>
<g id="leaf-Q52562" transform="rotate(253.33)"><circle class="tip" cx="158" r="1.6"/><text class="lb le" transform="rotate(180)" x="-211" dy=".35em">STBB_PSESM (Q52562)</text></g>
<g id="leaf-P55511" transform="rotate(256.67)"><circle class="tip" cx="162" r="1.6"/><text class="lb le" transform="rotate(180)" x="-211" dy=".35em">Y4JK_SINFN (P55511)</text></g>
<g id="leaf-Q9PD15" transform="rotate(260)"><circle class="tip" cx="164" r="1.6"/><text class="lb le" transform="rotate(180)" x="-211" dy=".35em">Q9PD15_XYLFA (Q9PD15)</text></g>
<g id="leaf-Q98CN2" transform="rotate(263.33)"><circle class="tip" cx="163" r="1.6"/><text class="lb le" transform="rotate(180)" x="-211" dy=".35em">Q98CN2_RHILO (Q98CN2)</text></g>
</g>

<g id="bootstrap" transform="translate(391 469)">
<text class="bs" transform="rotate(220.6) translate(155 0) rotate(180)" dy=".35em">97</text>
<text class="bs" transform="rotate(233) translate(121 0) rotate(180)" dy=".35em">84</text>
<text class="bs" transform="rotate(240) translate(135 0) rotate(180)" dy=".35em">99</text>
<text class="bs" transform="rotate(255) translate(129 0) rotate(180)" dy=".35em">66</text>
<text class="bs" transform="rotate(266) translate(104 0) rotate(180)" dy=".35em">86</text>
<text class="bs" transform="rotate(257.5) translate(74 0) rotate(180)" dy=".35em">51</text>
<text class="bs" transform="rotate(-89.6) translate(134 0)" dy=".35em">93</text>
<text class="bs" transform="rotate(-83) translate(98 0)" dy=".35em">92</text>
<text class="bs" transform="rotate(-79) translate(114 0)" dy=".35em">99</text>
<text class="bs" transform="rotate(-61) translate(121 0)" dy=".35em">99</text>
<text class="bs" transform="rotate(-60) translate(149 0)" dy=".35em">92</text>
<text class="bs" transform="rotate(-64.5) translate(74 0)" dy=".35em">78</text>
<text class="bs" transform="rotate(-57) translate(67 0)" dy=".35em">76</text>
<text class="bs" transform="rotate(-41.5) translate(92 0)" dy=".35em">78</text>
<text class="bs" transform="rotate(-35) translate(72 0)" dy=".35em">93</text>
<text class="bs" transform="rotate(-25) translate(84 0)" dy=".35em">65</text>
<text class="bs" transform="rotate(-17.5) translate(96 0)" dy=".35em">100</text>
<text class="bs" transform="rotate(-15) translate(61 0)" dy=".35em">75</text>
<text class="bs" transform="rotate(2.7) translate(84 0)" dy=".35em">80</text>
<text class="bs" transform="rotate(13.6) translate(68 0)" dy=".35em">77</text>
<text class="bs" transform="rotate(27.5) translate(78 0)" dy=".35em">56</text>
<text class="bs" transform="rotate(45) translate(83 0)" dy=".35em">92</text>
<text class="bs" transform="rotate(55.5) translate(104 0)" dy=".35em">78</text>
<text class="bs" transform="rotate(52.5) translate(130 0)" dy=".35em">72</text>
<text class="bs" transform="rotate(48.4) translate(144 0)" dy=".35em">59</text>
<text class="bs" transform="rotate(64.6) translate(137 0)" dy=".35em">97</text>
<text class="bs" transform="rotate(65) translate(98 0)" dy=".35em">83</text>
<text class="bs" transform="rotate(75) translate(115 0)" dy=".35em">78</text>
<text class="bs" transform="rotate(91) translate(97 0) rotate(180)" dy=".35em">85</text>
<text class="bs" transform="rotate(101) translate(94 0) rotate(180)" dy=".35em">63</text>
<text class="bs" transform="rotate(110) translate(83 0) rotate(180)" dy=".35em">92</text>
<text class="bs" transform="rotate(121) translate(75 0) rotate(180)" dy=".35em">53</text>
<text class="bs" transform="rotate(131.7) translate(99 0) rotate(180)" dy=".35em">100</text>
<text class="bs" transform="rotate(140.5) translate(88 0) rotate(180)" dy=".35em">99</text>
<text class="bs" transform="rotate(142) translate(105 0) rotate(180)" dy=".35em">59</text>
<text class="bs" transform="rotate(159) translate(135 0) rotate(180)" dy=".35em">97</text>
<text class="bs" transform="rotate(156) translate(151 0) rotate(180)" dy=".35em">91</text>
<text class="bs" transform="rotate(172) translate(115 0) rotate(180)" dy=".35em">92</text>
<text class="bs" transform="rotate(174) translate(91 0) rotate(180)" dy=".35em">90</text>
<text class="bs" transform="rotate(186.5) translate(107 0) rotate(180)" dy=".35em">99</text>
<text class="bs" transform="rotate(194) translate(107 0) rotate(180)" dy=".35em">67</text>
<text class="bs" transform="rotate(215.8) translate(75 0) rotate(180)" dy=".35em">94</text>
</g>

<g id="tn163" transform="translate(391 469) rotate(86.67)">
<text class="big" x="-393" dy=".35em" text-anchor="end" textLength="69" lengthAdjust="spacingAndGlyphs">Tn163</text>
</g>
<g id="tn3000" transform="translate(391 469) rotate(293.33)">
<text class="big" x="-393" dy=".35em" text-anchor="end" textLength="84" lengthAdjust="spacingAndGlyphs">Tn3000</text>
</g>

<g id="scalebar">
<line x1="686" y1="803" x2="722" y2="803" stroke="#555" stroke-width="1"/>
<text x="704" y="825" font-family="Liberation Sans,Arial,sans-serif" font-size="12" fill="#222" text-anchor="middle">0.6</text>
</g>
</svg>
